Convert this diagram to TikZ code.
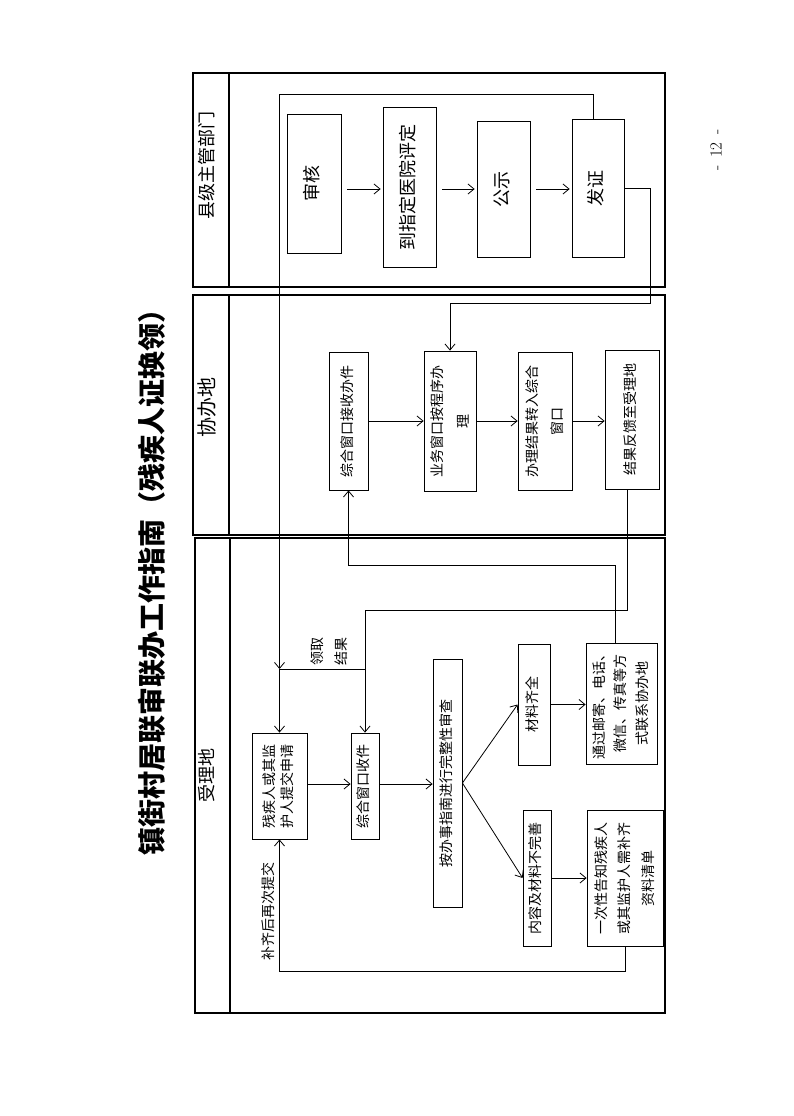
\documentclass[tikz,border=0pt]{standalone}
\usepackage{fontspec}
\usepackage{graphicx}
\usetikzlibrary{arrows.meta,calc}
\newfontfamily\cjk{Noto Sans CJK SC}
\newcommand{\vt}[3][19]{\rotatebox{90}{\fontsize{#2}{#1}\selectfont\begin{tabular}{@{}c@{}}#3\end{tabular}}}
\begin{document}
\begin{tikzpicture}[x=1pt,y=-1pt,
  box/.style={draw, line width=0.8pt, inner sep=0pt, font=\cjk},
  arr/.style={-{Straight Barb[length=6pt,width=10pt,line width=0.8pt]}, line width=0.8pt},
  ln/.style={line width=0.8pt},
  lane/.style={line width=1.1pt},
  lbl/.style={font=\cjk, inner sep=0pt}]
\fill[white] (0,0) rectangle (793,1116);
\useasboundingbox (0,0) rectangle (793,1116);

% title and page number
\node[font=\cjk\bfseries, inner sep=0pt] (title) at (152,575) {\rotatebox{90}{\fontsize{28}{30}\selectfont 镇街村居联审联办工作指南（残疾人证换领）}};
\node[inner sep=0pt] (pg) at (716,150) {\rotatebox{90}{\fontsize{17}{19}\selectfont -\hspace{8pt}12\hspace{8pt}-}};

% lanes
\draw[lane] (193,73) rectangle (665,287); \draw[lane] (229,73) -- (229,287);
\draw[lane] (193,295) rectangle (665,535); \draw[lane] (229,295) -- (229,535);
\draw[lane] (195,538) rectangle (665,1013); \draw[lane] (230,538) -- (230,1013);
\node[lbl] (h1) at (209,165) {\vt{18}{县级主管部门}};
\node[lbl] (h2) at (209,407) {\vt{20}{协办地}};
\node[lbl] (h3) at (209,775) {\vt{18}{受理地}};

% county lane
\node[box, minimum width=54pt, minimum height=139pt] (shen) at (314,183.5) {\vt{18}{审核}};
\node[box, minimum width=53pt, minimum height=160pt] (yy) at (409.5,187) {\vt{18}{到指定医院评定}};
\node[box, minimum width=53pt, minimum height=136pt] (gs) at (503.5,189) {\vt{18}{公示}};
\node[box, minimum width=52pt, minimum height=138pt] (fz) at (598,188) {\vt{18}{发证}};

% xieban lane
\node[box, minimum width=39pt, minimum height=138pt] (zjs) at (348.5,421) {\vt{14}{综合窗口接收办件}};
\node[box, minimum width=52pt, minimum height=140pt] (ywc) at (450,421) {\vt[26]{14}{业务窗口按程序办\\理}};
\node[box, minimum width=54pt, minimum height=138pt] (bljg) at (545,421) {\vt[25]{14}{办理结果转入综合\\窗口}};
\node[box, minimum width=54pt, minimum height=139pt] (jgfk) at (632,419.5) {\vt{14}{结果反馈至受理地}};

% shouli lane
\node[box, minimum width=55pt, minimum height=106pt] (sq) at (279.5,786) {\vt[18]{14}{残疾人或其监\\护人提交申请}};
\node[box, minimum width=28pt, minimum height=106pt] (sj) at (365,786) {\vt{14}{综合窗口收件}};
\node[box, minimum width=29pt, minimum height=248pt] (sc) at (447.5,783) {\vt{14}{按办事指南进行完整性审查}};
\node[box, minimum width=32pt, minimum height=121pt] (qq) at (534,704.5) {\vt{14}{材料齐全}};
\node[box, minimum width=71pt, minimum height=121pt] (tz) at (621.5,703.5) {\vt[21.5]{14}{通过邮寄、电话、\\微信、传真等方\\式联系协办地}};
\node[box, minimum width=28pt, minimum height=136pt] (bw) at (537,878) {\vt{14}{内容及材料不完善}};
\node[box, minimum width=76pt, minimum height=136pt] (gz) at (625,878) {\vt[23.5]{14}{一次性告知残疾人\\或其监护人需补齐\\资料清单}};

% labels
\node[lbl] (lq) at (330,651) {\vt[24]{14}{领取\\结果}};
\node[lbl] (bq) at (270,911) {\vt{14}{补齐后再次提交}};

% helper coordinates
\coordinate (a1) at (0,189);
\coordinate (a2) at (0,421);
\coordinate (a3) at (0,784);
\coordinate (j1) at (279.5,669);
\coordinate (c1) at (593,94);
\coordinate (c2) at (279.5,94);
\coordinate (c4) at (650,303);
\coordinate (c5) at (0,610);
\coordinate (c7) at (0,565);
\coordinate (c11) at (0,971);

% county arrows
\draw[arr, shorten <=6pt, shorten >=2pt] (shen.east |- a1) -- (yy.west |- a1);
\draw[arr, shorten <=6pt, shorten >=2pt] (yy.east |- a1) -- (gs.west |- a1);
\draw[arr, shorten <=6pt, shorten >=2pt] (gs.east |- a1) -- (fz.west |- a1);

% xieban arrows
\draw[arr] (zjs.east |- a2) -- (ywc.west |- a2);
\draw[arr] (ywc.east |- a2) -- (bljg.west |- a2);
\draw[arr] (bljg.east |- a2) -- (jgfk.west |- a2);

% shouli arrows
\draw[arr] (sq.east |- a3) -- (sj.west |- a3);
\draw[arr] (sj.east |- a3) -- (sc.west |- a3);
\draw[arr] (sc.east) -- (qq.west);
\draw[arr] (sc.east) -- (bw.west);
\draw[arr] (qq.east) -- (tz.west |- qq.east);
\draw[arr] (bw.east) -- (gz.west |- bw.east);

% long connectors
\draw[arr] (c1 |- fz.north) -- (c1) -- (c2) -- (j1);
\draw[arr] (fz.east) -| (c4) -| (ywc.north);
\draw[arr] ([xshift=-5pt]jgfk.south) |- (c5 -| sj.north) -- (sj.north);
\draw[ln] (j1 -| sj.north) -- (j1);
\draw[arr] (j1) -- (sq.north);
\draw[arr] ([xshift=-6.5pt]tz.north) |- (c7 -| zjs.south) -- (zjs.south);
\draw[arr] (gz.south) |- (c11 -| sq.south) -- (sq.south);
\end{tikzpicture}
\end{document}
